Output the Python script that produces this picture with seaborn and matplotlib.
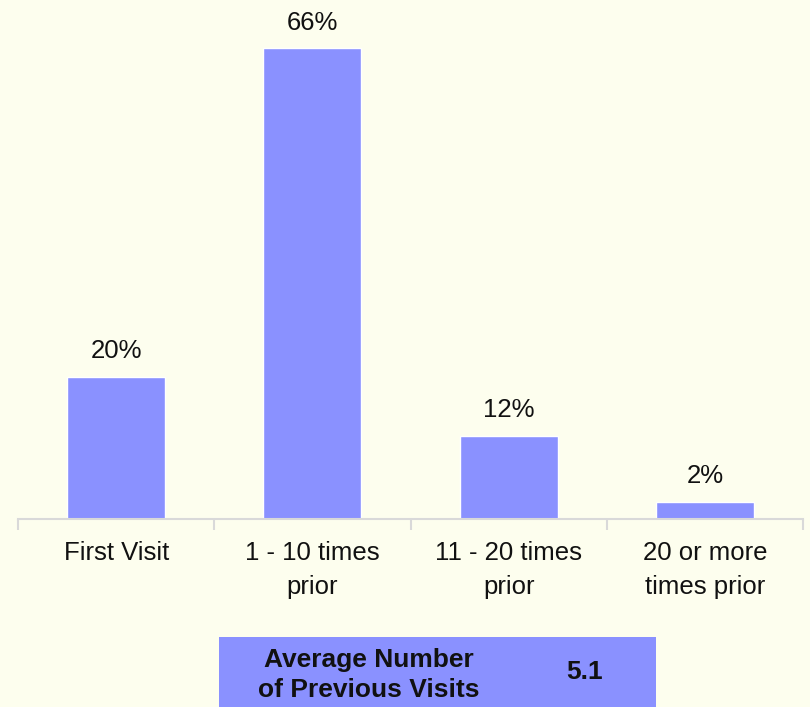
import matplotlib
matplotlib.use("Agg")
import matplotlib.pyplot as plt
import seaborn as sns
import pandas as pd
from matplotlib.patches import Rectangle

categories = ["First Visit", "1 - 10 times\nprior", "11 - 20 times\nprior", "20 or more\ntimes prior"]
values = [19.9, 66.0, 11.6, 2.4]
value_labels = ["20%", "66%", "12%", "2%"]
summary_label = "Average Number\nof Previous Visits"
summary_value = "5.1"

BG = "#FDFEEE"
BAR = "#8A91FF"

sns.set_theme(style="white")
plt.rcParams['font.family'] = ['Liberation Sans', 'DejaVu Sans']

df = pd.DataFrame({"category": categories, "value": values})

fig = plt.figure(figsize=(8.1, 7.07), dpi=100, facecolor=BG)
ax = fig.add_axes([18/810, 188/707, 785/810, 519/707])
ax.set_facecolor(BG)

sns.barplot(data=df, x="category", y="value", color=BAR, width=0.5, saturation=1, ax=ax)

ax.set_xlim(-0.5, 3.5)
ax.set_ylim(0, 72.8)
ax.set_xlabel("")
ax.set_ylabel("")
ax.set_yticks([])
for s in ["top", "right", "left"]:
    ax.spines[s].set_visible(False)
ax.spines["bottom"].set_color("#D9D9D9")
ax.spines["bottom"].set_linewidth(1.5)

ax.set_xticks([-0.5, 0.5, 1.5, 2.5, 3.5], minor=True)
ax.set_xticks(range(len(categories)))
ax.set_xticklabels(categories, fontsize=18.5, color="#111111", linespacing=1.5)
ax.tick_params(axis="x", which="major", bottom=False, length=0, pad=16)
ax.tick_params(axis="x", which="minor", bottom=True, length=8, width=1.5, color="#D9D9D9", direction="out")

for i, (v, lab) in enumerate(zip(values, value_labels)):
    ax.annotate(lab, (i, v), xytext=(0, 10), textcoords="offset points",
                ha="center", va="bottom", fontsize=18.5, color="#111111")

# summary box
fig.patches.append(Rectangle((219/810, 0), 437/810, 70/707, transform=fig.transFigure,
                             facecolor=BAR, edgecolor="none", zorder=0))
fig.text(369/810, 32/707, summary_label, ha="center", va="center", fontsize=19,
         fontweight="bold", color="#111111", linespacing=1.28)
fig.text(585/810, 35/707, summary_value, ha="center", va="center", fontsize=19,
         fontweight="bold", color="#111111")

fig.savefig("out.png", dpi=100, facecolor=BG)
